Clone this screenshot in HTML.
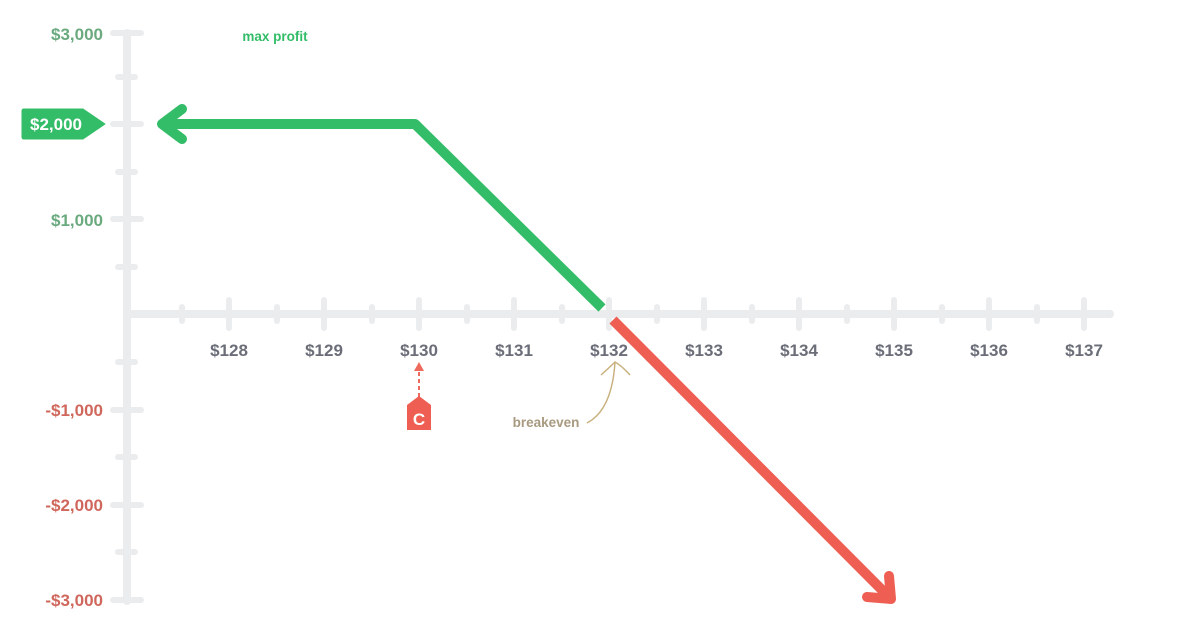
<!DOCTYPE html>
<html><head><meta charset="utf-8"><style>
html,body{margin:0;padding:0;background:#fff;}
svg{display:block}
text{font-family:"Liberation Sans",sans-serif;font-weight:bold}
</style></head><body>
<svg width="1200" height="630" viewBox="0 0 1200 630" xmlns="http://www.w3.org/2000/svg">
<g stroke="#ebecee" stroke-linecap="round" fill="none">
  <line x1="127" y1="33" x2="127" y2="601" stroke-width="8"/>
  <line x1="127" y1="314" x2="1110" y2="314" stroke-width="8"/>
  <g stroke-width="6">
    <line x1="113" y1="33" x2="141" y2="33"/>
    <line x1="113" y1="124" x2="141" y2="124"/>
    <line x1="113" y1="219" x2="141" y2="219"/>
    <line x1="113" y1="410" x2="141" y2="410"/>
    <line x1="113" y1="505" x2="141" y2="505"/>
    <line x1="113" y1="600" x2="141" y2="600"/>
    <line x1="118" y1="77" x2="135" y2="77"/>
    <line x1="118" y1="172" x2="135" y2="172"/>
    <line x1="118" y1="267" x2="135" y2="267"/>
    <line x1="118" y1="362" x2="135" y2="362"/>
    <line x1="118" y1="457" x2="135" y2="457"/>
    <line x1="118" y1="552" x2="135" y2="552"/>
  </g>
  <g stroke-width="6">
    <line x1="229" y1="300" x2="229" y2="328"/>
    <line x1="324" y1="300" x2="324" y2="328"/>
    <line x1="419" y1="300" x2="419" y2="328"/>
    <line x1="514" y1="300" x2="514" y2="328"/>
    <line x1="609" y1="300" x2="609" y2="328"/>
    <line x1="704" y1="300" x2="704" y2="328"/>
    <line x1="799" y1="300" x2="799" y2="328"/>
    <line x1="894" y1="300" x2="894" y2="328"/>
    <line x1="989" y1="300" x2="989" y2="328"/>
    <line x1="1084" y1="300" x2="1084" y2="328"/>
    <line x1="182" y1="307" x2="182" y2="321"/>
    <line x1="277" y1="307" x2="277" y2="321"/>
    <line x1="372" y1="307" x2="372" y2="321"/>
    <line x1="467" y1="307" x2="467" y2="321"/>
    <line x1="562" y1="307" x2="562" y2="321"/>
    <line x1="657" y1="307" x2="657" y2="321"/>
    <line x1="752" y1="307" x2="752" y2="321"/>
    <line x1="847" y1="307" x2="847" y2="321"/>
    <line x1="942" y1="307" x2="942" y2="321"/>
    <line x1="1037" y1="307" x2="1037" y2="321"/>
  </g>
</g>
<g font-size="17" text-anchor="end">
  <text x="103" y="40" fill="#6aaa7e">$3,000</text>
  <text x="103" y="226" fill="#6aaa7e">$1,000</text>
  <text x="103" y="416" fill="#d0675c">-$1,000</text>
  <text x="103" y="511" fill="#d0675c">-$2,000</text>
  <text x="103" y="606" fill="#d0675c">-$3,000</text>
</g>
<g font-size="17" text-anchor="middle" fill="#6b6e78">
  <text x="229" y="356">$128</text>
  <text x="324" y="356">$129</text>
  <text x="419" y="356">$130</text>
  <text x="514" y="356">$131</text>
  <text x="609" y="356">$132</text>
  <text x="704" y="356">$133</text>
  <text x="799" y="356">$134</text>
  <text x="894" y="356">$135</text>
  <text x="989" y="356">$136</text>
  <text x="1084" y="356">$137</text>
</g>
<text x="275" y="41" font-size="13.5" fill="#34bd68" text-anchor="middle">max profit</text>
<path d="M22 111 Q22 109 24 109 H83 L105 124 L83 139 H24 Q22 139 22 137 Z" fill="#34bd68" stroke="#34bd68" stroke-width="1" stroke-linejoin="round"/>
<text x="56" y="130" font-size="17" fill="#fff" text-anchor="middle">$2,000</text>
<g fill="none" stroke="#34bd68" stroke-width="10" stroke-linecap="round" stroke-linejoin="round">
  <polyline points="162,124 415,124 602,308" stroke-linecap="butt"/>
  <polyline points="182,109 162,124 182,139"/>
</g>
<g fill="none" stroke="#ee5e52" stroke-width="10" stroke-linecap="round" stroke-linejoin="round">
  <line x1="613" y1="320" x2="890" y2="598" stroke-linecap="butt"/>
  <polyline points="867,597 891,599 889,576"/>
</g>
<line x1="419" y1="397" x2="419" y2="370" stroke="#ee6a5c" stroke-width="2" stroke-dasharray="4,3"/>
<path d="M414 371 L419 362 L424 371 Z" fill="#ee6a5c"/>
<path d="M407 405 L419 396 L431 405 V430 H407 Z" fill="#ee5e52"/>
<text x="419" y="425" font-size="17" fill="#fff" text-anchor="middle">C</text>
<path d="M587 423 Q612 410 615 362" fill="none" stroke="#c9b27f" stroke-width="1.5"/>
<path d="M601 375 Q611 366 615 362 Q622 366 630 375" fill="none" stroke="#c9b27f" stroke-width="1.5"/>
<text x="546" y="427" font-size="13.5" fill="#a89a80" text-anchor="middle">breakeven</text>
</svg>
</body></html>
